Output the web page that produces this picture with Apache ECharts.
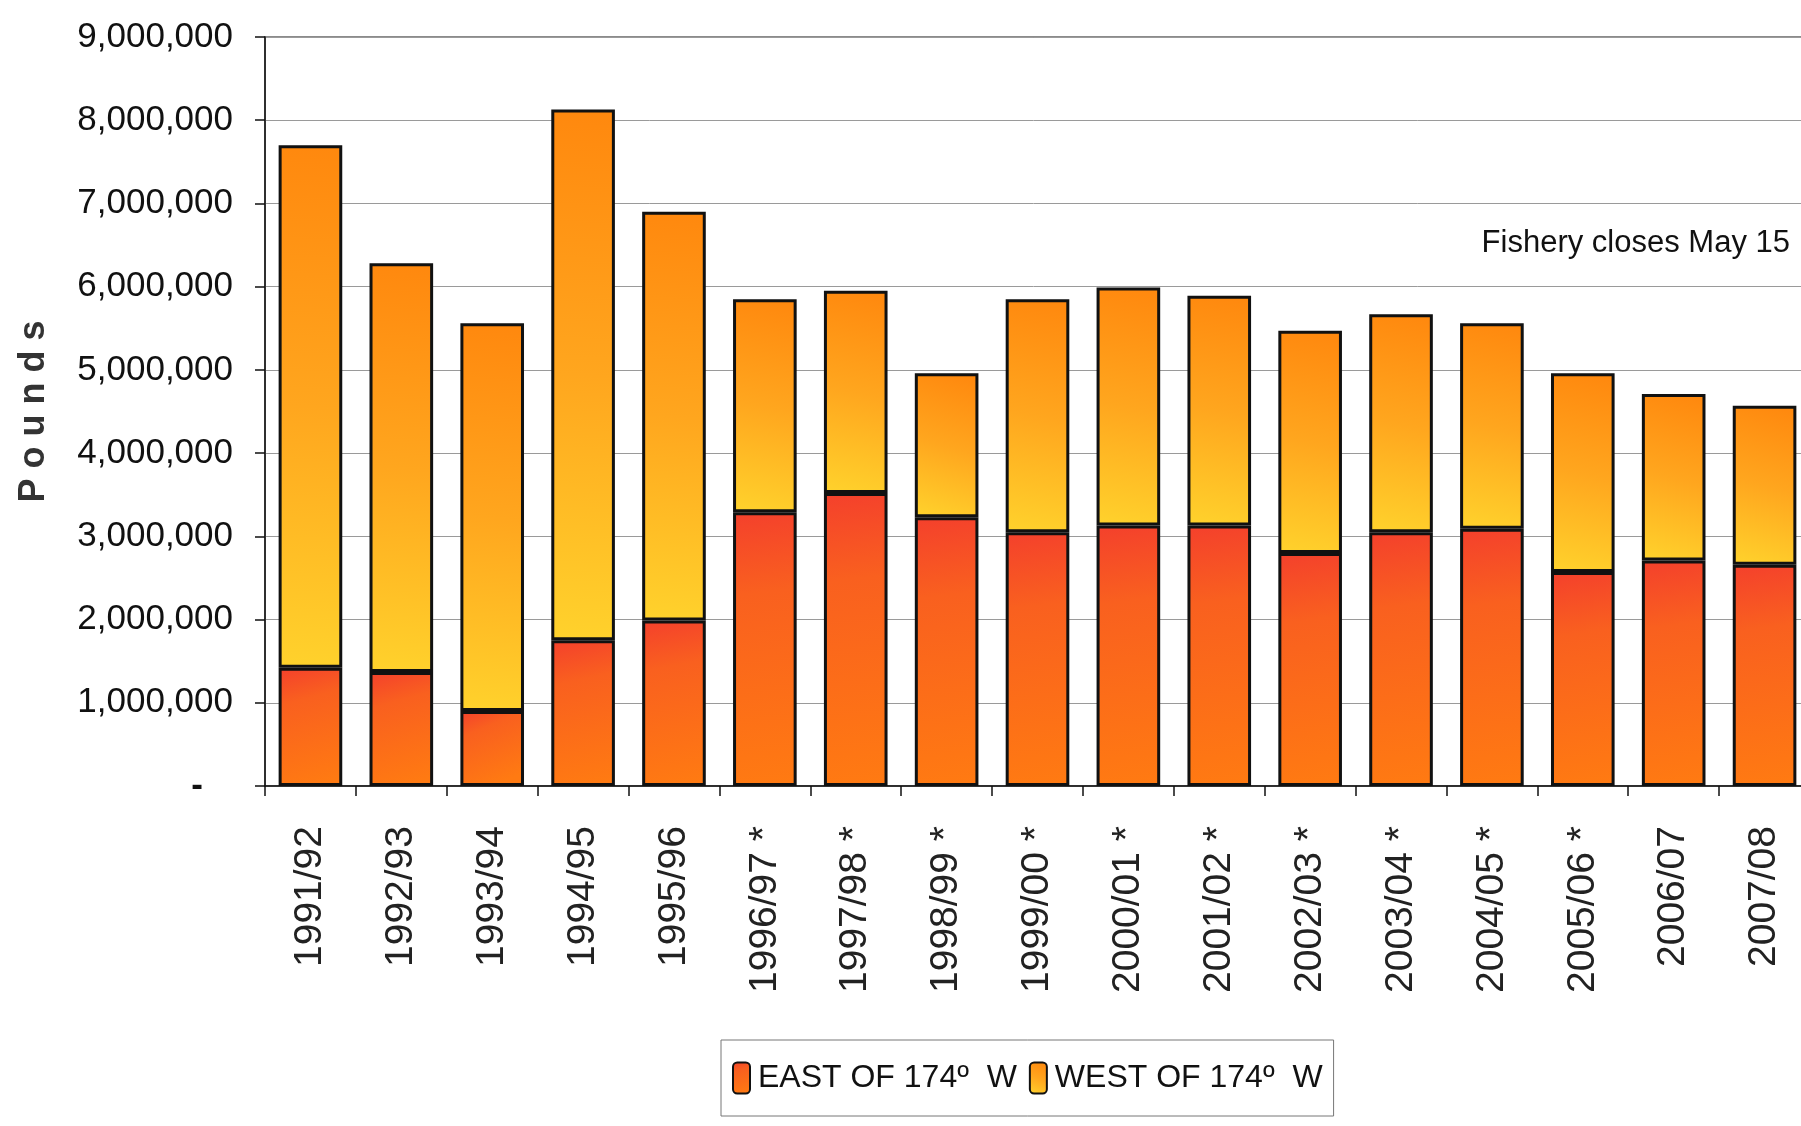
<!DOCTYPE html>
<html>
<head>
<meta charset="utf-8">
<title>Pounds east / west of 174 W</title>
<script src="https://cdn.jsdelivr.net/npm/echarts@6.0.0/dist/echarts.min.js"></script>
<style>
  html, body { margin: 0; padding: 0; background: #fff; }
  #chart { width: 1801px; height: 1126px; }
</style>
</head>
<body>
<div id="chart"></div>
<script>
// seasons on the x axis (* = fishery closes May 15)
const seasons = [
  '1991/92', '1992/93', '1993/94', '1994/95', '1995/96',
  '1996/97 *', '1997/98 *', '1998/99 *', '1999/00 *', '2000/01 *',
  '2001/02 *', '2002/03 *', '2003/04 *', '2004/05 *', '2005/06 *',
  '2006/07', '2007/08'
]
// pounds
const eastOf174W = [
  1420000, 1370000, 900000, 1750000, 1990000,
  3290000, 3520000, 3230000, 3050000, 3130000,
  3130000, 2800000, 3050000, 3090000, 2570000,
  2710000, 2660000
]
const westOf174W = [
  6280000, 4910000, 4660000, 6380000, 4910000,
  2560000, 2430000, 1730000, 2800000, 2860000,
  2760000, 2670000, 2620000, 2470000, 2390000,
  2000000, 1910000
]
const yTicks = { min: 0, max: 9000000, interval: 1000000 }

const font = '"Liberation Sans", Arial, sans-serif'

let myChart = echarts.init(document.getElementById('chart'))
myChart.setOption({
  animation: false,
  backgroundColor: '#ffffff',
  grid: {
    left: 265,
    right: -9,
    top: 37,
    bottom: 340,
    outerBoundsMode: 'none',
    containLabel: false,
    show: true,
    borderColor: '#666',
    borderWidth: 1.5,
    backgroundColor: '#ffffff'
  },
  legend: {
    left: 721,
    top: 1040,
    padding: [20, 11, 20, 11],
    itemWidth: 17,
    itemHeight: 31,
    itemGap: 12,
    borderColor: '#777',
    borderWidth: 1,
    backgroundColor: '#fff',
    textStyle: {
      fontFamily: font,
      fontSize: 32,
      color: '#111',
      lineHeight: 36,
      padding: [0, 0, 0, 3]
    },
    data: ['EAST OF 174º  W', 'WEST OF 174º  W']
  },
  graphic: [{
    type: 'text',
    right: 11,
    top: 228,
    style: {
      text: 'Fishery closes May 15',
      font: '31px ' + font,
      fill: '#111'
    }
  }],
  xAxis: {
    type: 'category',
    data: seasons,
    axisLine: { lineStyle: { color: '#111', width: 1.5 } },
    axisTick: { show: true, length: 10, lineStyle: { color: '#111', width: 1.5 } },
    axisLabel: {
      interval: 0,
      rotate: 90,
      margin: 40,
      fontFamily: font,
      fontSize: 39,
      color: '#222'
    }
  },
  yAxis: {
    type: 'value',
    min: yTicks.min,
    max: yTicks.max,
    interval: yTicks.interval,
    name: 'P o u n d s',
    nameLocation: 'middle',
    nameRotate: 90,
    nameGap: 213,
    nameTextStyle: {
      fontFamily: font,
      fontWeight: 'bold',
      fontSize: 36,
      color: '#333'
    },
    axisLine: { show: true, lineStyle: { color: '#111', width: 1.5 } },
    axisTick: { show: true, length: 10, lineStyle: { color: '#111', width: 1.5 } },
    splitLine: { lineStyle: { color: '#9a9a9a', width: 1 } },
    axisLabel: {
      margin: 32,
      fontFamily: font,
      fontSize: 35,
      color: '#111',
      formatter: function (v) {
        if (v === 0) return '{z|-}'
        return v.toLocaleString('en-US')
      },
      rich: {
        z: { fontFamily: font, fontSize: 35, fontWeight: 'bold', color: '#111', padding: [0, 30, 0, 0] }
      }
    }
  },
  series: [
    {
      name: 'EAST OF 174º  W',
      type: 'bar',
      stack: 'pounds',
      barCategoryGap: '30%',
      itemStyle: {
        color: new echarts.graphic.LinearGradient(0, 0, 0.5, 1, [
          { offset: 0, color: '#F4402C' },
          { offset: 0.3, color: '#F9601F' },
          { offset: 1, color: '#FF7A12' }
        ]),
        borderColor: '#111',
        borderWidth: 3
      },
      data: eastOf174W
    },
    {
      name: 'WEST OF 174º  W',
      type: 'bar',
      stack: 'pounds',
      barCategoryGap: '30%',
      itemStyle: {
        color: new echarts.graphic.LinearGradient(0.8, 0, 0.1, 1, [
          { offset: 0, color: '#FF880E' },
          { offset: 0.5, color: '#FFA61E' },
          { offset: 1, color: '#FFD22C' }
        ]),
        borderColor: '#111',
        borderWidth: 3
      },
      data: westOf174W
    }
  ]
})
</script>
</body>
</html>
